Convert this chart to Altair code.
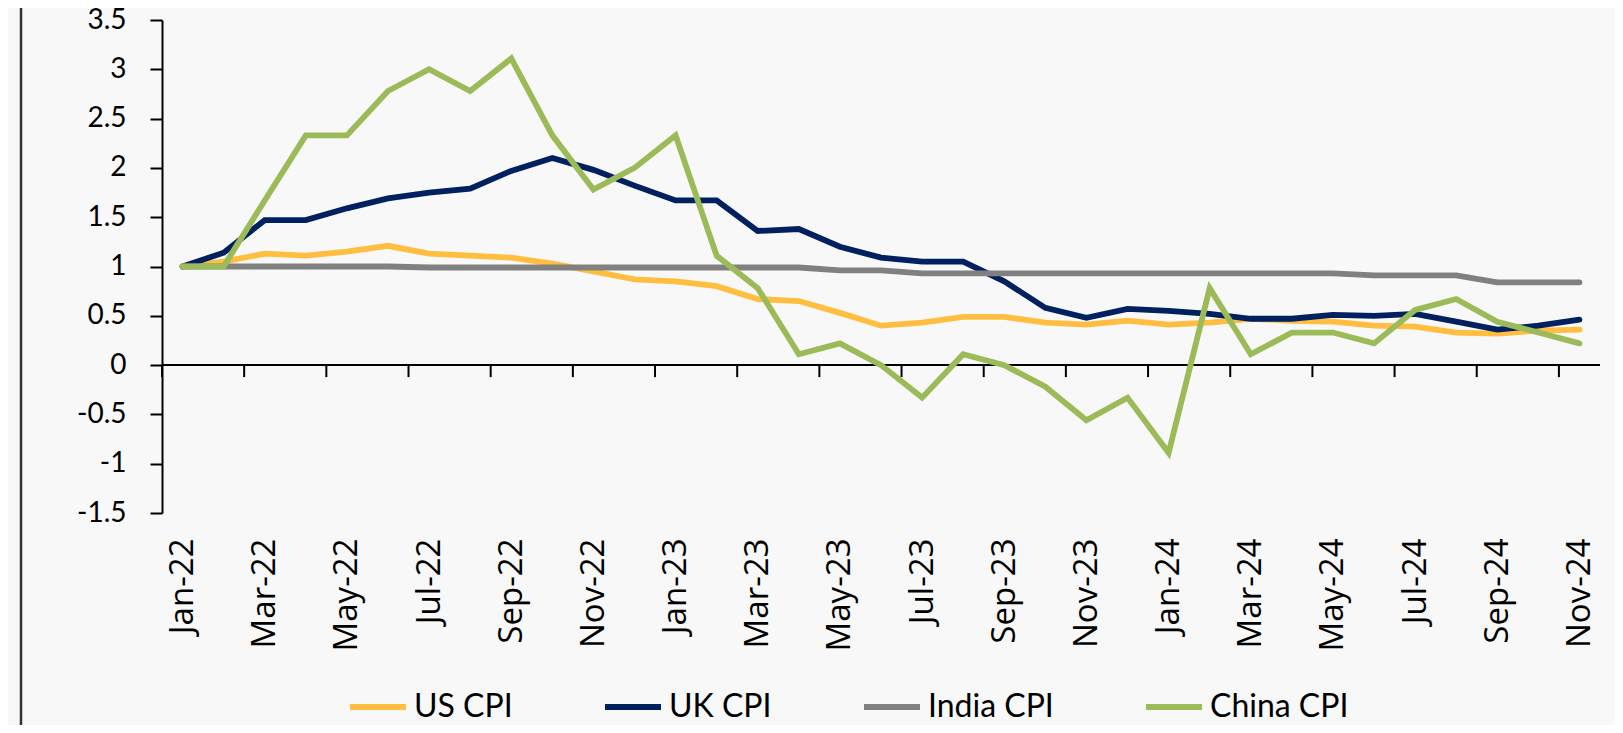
import altair as alt
import pandas as pd

months = ["Jan-22", "Feb-22", "Mar-22", "Apr-22", "May-22", "Jun-22", "Jul-22", "Aug-22", "Sep-22", "Oct-22", "Nov-22", "Dec-22",
          "Jan-23", "Feb-23", "Mar-23", "Apr-23", "May-23", "Jun-23", "Jul-23", "Aug-23", "Sep-23", "Oct-23", "Nov-23", "Dec-23",
          "Jan-24", "Feb-24", "Mar-24", "Apr-24", "May-24", "Jun-24", "Jul-24", "Aug-24", "Sep-24", "Oct-24", "Nov-24"]

us_cpi = [1.00, 1.05, 1.13, 1.11, 1.15, 1.21, 1.13, 1.11, 1.09, 1.03, 0.95, 0.87,
          0.85, 0.80, 0.67, 0.65, 0.53, 0.40, 0.43, 0.49, 0.49, 0.43, 0.41, 0.45,
          0.41, 0.43, 0.47, 0.45, 0.44, 0.40, 0.39, 0.33, 0.32, 0.35, 0.36]
uk_cpi = [1.00, 1.14, 1.47, 1.47, 1.59, 1.69, 1.75, 1.79, 1.97, 2.10, 1.98, 1.82,
          1.67, 1.67, 1.36, 1.38, 1.20, 1.09, 1.05, 1.05, 0.85, 0.58, 0.48, 0.57,
          0.55, 0.52, 0.47, 0.47, 0.51, 0.50, 0.52, 0.44, 0.36, 0.40, 0.46]
india_cpi = [1.00, 1.00, 1.00, 1.00, 1.00, 1.00, 0.99, 0.99, 0.99, 0.99, 0.99, 0.99,
             0.99, 0.99, 0.99, 0.99, 0.96, 0.96, 0.93, 0.93, 0.93, 0.93, 0.93, 0.93,
             0.93, 0.93, 0.93, 0.93, 0.93, 0.91, 0.91, 0.91, 0.84, 0.84, 0.84]
china_cpi = [1.00, 1.00, 1.67, 2.33, 2.33, 2.78, 3.00, 2.78, 3.11, 2.33, 1.78, 2.00,
             2.33, 1.11, 0.78, 0.11, 0.22, 0.00, -0.33, 0.11, 0.00, -0.22, -0.56, -0.33,
             -0.89, 0.78, 0.11, 0.33, 0.33, 0.22, 0.56, 0.67, 0.44, 0.33, 0.22]

series_names = ["US CPI", "UK CPI", "India CPI", "China CPI"]
series_colors = ["#FFBE3F", "#002060", "#808080", "#9BBB59"]
y_ticks = [-1.5, -1, -0.5, 0, 0.5, 1, 1.5, 2, 2.5, 3, 3.5]

rows = []
for name, vals in zip(series_names, [us_cpi, uk_cpi, india_cpi, china_cpi]):
    for i, v in enumerate(vals):
        rows.append({"t": i, "month": months[i], "series": name, "value": v})
df = pd.DataFrame(rows)

label_idx = list(range(0, len(months), 2))
boundaries = [i - 0.5 for i in label_idx]
ticks_df = pd.DataFrame({"b": boundaries})

label_expr = "[" + ",".join("'" + m + "'" for m in months) + "][datum.value]"

xscale = alt.Scale(domain=[-0.5, len(months) - 0.5], nice=False, zero=False)
yscale = alt.Scale(domain=[-1.5, 3.5], nice=False, zero=False)

lines = alt.Chart(df).mark_line(strokeWidth=5.8, strokeCap="round", clip=False).encode(
    x=alt.X("t:Q", scale=xscale,
            axis=alt.Axis(values=label_idx, labelExpr=label_expr, title=None, grid=False,
                          domain=False, ticks=False, tickSize=0, labelAngle=-90,
                          labelFont="Open Sans", labelFontSize=33, labelColor="#000000",
                          labelPadding=25, labelOverlap=False, labelBound=False,
                          labelFlush=False)),
    y=alt.Y("value:Q", scale=yscale,
            axis=alt.Axis(values=y_ticks, labelExpr="toString(datum.value)", title=None,
                          grid=False, domain=True, domainColor="#000000", domainWidth=2,
                          ticks=True, tickColor="#000000", tickWidth=2, tickSize=12,
                          labelFont="Lato", labelFontSize=28, labelColor="#000000",
                          labelPadding=24, labelOverlap=False, labelFlush=False)),
    color=alt.Color("series:N",
                    scale=alt.Scale(domain=series_names, range=series_colors),
                    sort=series_names,
                    legend=alt.Legend(title=None, orient="none", direction="horizontal",
                                      columns=4, legendX=185, legendY=656, padding=0,
                                      symbolType="stroke", symbolSize=3136,
                                      symbolStrokeWidth=6, labelFont="Lato",
                                      labelFontSize=32, labelColor="#000000",
                                      labelOffset=5, columnPadding=80, labelLimit=400)),
    order=alt.Order("t:Q"),
)

zero_line = alt.Chart(pd.DataFrame({"z": [0]})).mark_rule(color="#000000", strokeWidth=2).encode(
    y=alt.Y("z:Q", scale=yscale)
)

tick_marks = alt.Chart(ticks_df).mark_rule(color="#000000", strokeWidth=2, y2Offset=12).encode(
    x=alt.X("b:Q", scale=xscale),
    y=alt.datum(0),
    y2=alt.datum(0),
)

border = alt.Chart(pd.DataFrame({"k": [0]})).mark_rule(color="#333333", strokeWidth=2.5).encode(
    x=alt.value(-141),
    y=alt.value(-20),
    y2=alt.value(720),
)

chart = alt.layer(border, zero_line, tick_marks, lines).properties(
    width=1438,
    height=493,
    autosize=alt.AutoSizeParams(type="none"),
    padding={"left": 154, "top": 12, "right": 15, "bottom": 212},
    background="#F8F8F8",
).configure_view(strokeWidth=0)

chart.save("out.html", embed_options={"renderer": "svg", "actions": False})
